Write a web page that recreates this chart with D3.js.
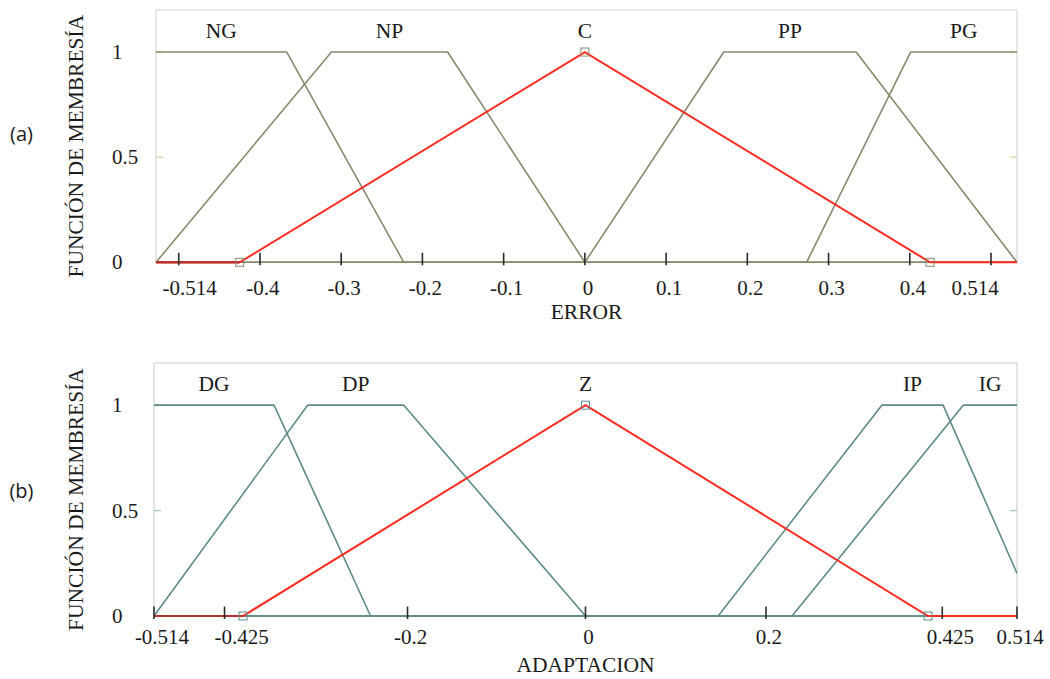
<!DOCTYPE html>
<html>
<head>
<meta charset="utf-8">
<script src="https://cdn.jsdelivr.net/npm/d3@7"></script>
<style>
  body { margin: 0; background: #fff; }
  svg { display: block; }
  text { font-family: "Liberation Serif", "Times New Roman", serif; fill: #1a1a1a; }
</style>
</head>
<body>
<svg id="chart" width="1050" height="679"></svg>
<script>
// (a) ERROR membership functions, [x, membership] corner points
const errorNames = ["NG", "NP", "C", "PP", "PG"];
const errorMFs = [
  [[-0.528, 1], [-0.367, 1], [-0.223, 0], [0.532, 0]],
  [[-0.528, 0], [-0.312, 1], [-0.169, 1], [0, 0], [0.532, 0]],
  [[-0.528, 0], [-0.425, 0], [0, 1], [0.425, 0], [0.532, 0]],
  [[-0.528, 0], [0, 0], [0.171, 1], [0.334, 1], [0.532, 0]],
  [[-0.528, 0], [0.273, 0], [0.401, 1], [0.532, 1]]
];
const errorTicks = [-0.5, -0.4, -0.3, -0.2, -0.1, 0, 0.1, 0.2, 0.3, 0.4, 0.5];
const errorTickLabels = ["-0.514", "-0.4", "-0.3", "-0.2", "-0.1", "0", "0.1", "0.2", "0.3", "0.4", "0.514"];

// (b) ADAPTACION membership functions
const adaptNames = ["DG", "DP", "Z", "IP", "IG"];
const adaptMFs = [
  [[-0.514, 1], [-0.371, 1], [-0.256, 0], [0.514, 0]],
  [[-0.514, 0], [-0.331, 1], [-0.2165, 1], [0, 0], [0.514, 0]],
  [[-0.514, 0], [-0.408, 0], [0, 1], [0.408, 0], [0.514, 0]],
  [[-0.514, 0], [0.158, 0], [0.353, 1], [0.426, 1], [0.514, 0.203]],
  [[-0.514, 0], [0.246, 0], [0.450, 1], [0.514, 1]]
];
const adaptTicks = [-0.514, -0.43, -0.212, 0, 0.215, 0.425, 0.514];
const adaptTickLabels = ["-0.514", "-0.425", "-0.2", "0", "0.2", "0.425", "0.514"];

const yTicks = [0, 0.5, 1];
const yTickLabels = ["0", "0.5", "1"];
const selected = 2; // highlighted (red) function in each panel

const svg = d3.select("#chart");

const panels = [
  {tag: "(a)", title: "ERROR", names: errorNames, mfs: errorMFs, ticks: errorTicks, tickLabels: errorTickLabels,
   xd: [-0.528, 0.532], xr: [156, 1017], yr: [262.3, 10], color: "#898a6c", frame: "#d6d6d0", ytick: "#dcdcb0",
   tickY: 294.5, titleY: 319, tagY: 134, nudge: {"-0.514": 11, "0.514": -16}},
  {tag: "(b)", title: "ADAPTACION", names: adaptNames, mfs: adaptMFs, ticks: adaptTicks, tickLabels: adaptTickLabels,
   xd: [-0.514, 0.514], xr: [154, 1017], yr: [616, 363], color: "#5f8a8a", frame: "#cbd6d6", ytick: "#a9cccc",
   tickY: 643.5, titleY: 672, tagY: 491, nudge: {"-0.514": 8, "-0.425": 17, "0.425": 8, "0.514": 3}}
];

panels.forEach(p => {
  const x = d3.scaleLinear().domain(p.xd).range(p.xr);
  const y = d3.scaleLinear().domain([0, 1.2]).range(p.yr);
  const g = svg.append("g");

  // frame
  g.append("rect")
    .attr("x", p.xr[0]).attr("y", p.yr[1])
    .attr("width", p.xr[1] - p.xr[0]).attr("height", p.yr[0] - p.yr[1])
    .attr("fill", "none").attr("stroke", p.frame).attr("stroke-width", 1.2);

  // faint y ticks on both sides
  [[p.xr[0], 7], [p.xr[1], -7]].forEach(([x0, len]) => {
    g.selectAll(null).data(yTicks).enter().append("line")
      .attr("x1", x0).attr("x2", x0 + len)
      .attr("y1", d => y(d)).attr("y2", d => y(d))
      .attr("stroke", p.ytick).attr("stroke-width", 1.5);
  });

  const line = d3.line().x(d => x(d[0])).y(d => y(d[1]));

  // gray membership functions
  g.selectAll(".mf").data(p.mfs.filter((d, i) => i !== selected)).enter()
    .append("path").attr("class", "mf")
    .attr("d", line)
    .attr("fill", "none").attr("stroke", p.color)
    .attr("stroke-width", 1.6).attr("stroke-linejoin", "round");

  // highlighted function
  const sel = p.mfs[selected];
  g.append("path").attr("d", line(sel))
    .attr("fill", "none").attr("stroke", "#ff2a1f").attr("stroke-width", 2);
  g.append("path").attr("d", line(sel.slice(0, 2)))
    .attr("fill", "none").attr("stroke", "#b4302a").attr("stroke-width", 2.2);

  // square markers at the corners of the highlighted function
  g.selectAll(".mk").data(sel.slice(1, -1)).enter().append("rect")
    .attr("x", d => x(d[0]) - 4).attr("y", d => y(d[1]) - 4)
    .attr("width", 8).attr("height", 8)
    .attr("fill", "none").attr("stroke", p.color).attr("stroke-width", 1);

  // x ticks
  g.selectAll(".xt").data(p.ticks).enter().append("line")
    .attr("x1", d => x(d)).attr("x2", d => x(d))
    .attr("y1", y(0) - 9.5).attr("y2", y(0) + 3)
    .attr("stroke", "#2a2a2a").attr("stroke-width", 1.6);

  g.selectAll(".xl").data(p.ticks).enter().append("text")
    .attr("x", (d, i) => x(d) + (p.nudge[p.tickLabels[i]] ?? 3))
    .attr("y", p.tickY)
    .attr("text-anchor", "middle").attr("font-size", 21)
    .text((d, i) => p.tickLabels[i]);

  // y tick labels, left aligned
  g.selectAll(".yl").data(yTicks).enter().append("text")
    .attr("x", 112).attr("y", d => y(d) + 7)
    .attr("font-size", 21)
    .text((d, i) => yTickLabels[i]);

  // membership function names over their plateau
  g.selectAll(".nm").data(p.mfs).enter().append("text")
    .attr("x", d => {
      const top = d.filter(q => q[1] === 1).map(q => q[0]);
      return x((d3.min(top) + d3.max(top)) / 2);
    })
    .attr("y", y(1.1) + 7)
    .attr("text-anchor", "middle").attr("font-size", 21.5)
    .text((d, i) => p.names[i]);

  // axis titles
  g.append("text")
    .attr("x", (p.xr[0] + p.xr[1]) / 2).attr("y", p.titleY)
    .attr("text-anchor", "middle").attr("font-size", 21.5)
    .text(p.title);

  g.append("text")
    .attr("transform", `translate(83,${(p.yr[0] + p.yr[1]) / 2 + 10}) rotate(-90)`)
    .attr("text-anchor", "middle").attr("font-size", 21.5)
    .text("FUNCIÓN DE MEMBRESÍA");

  g.append("text")
    .attr("x", 21.5).attr("y", p.tagY + 7)
    .attr("text-anchor", "middle").attr("font-size", 20)
    .style("font-family", "'Open Sans', 'Liberation Sans', sans-serif")
    .text(p.tag);
});
</script>
</body>
</html>
